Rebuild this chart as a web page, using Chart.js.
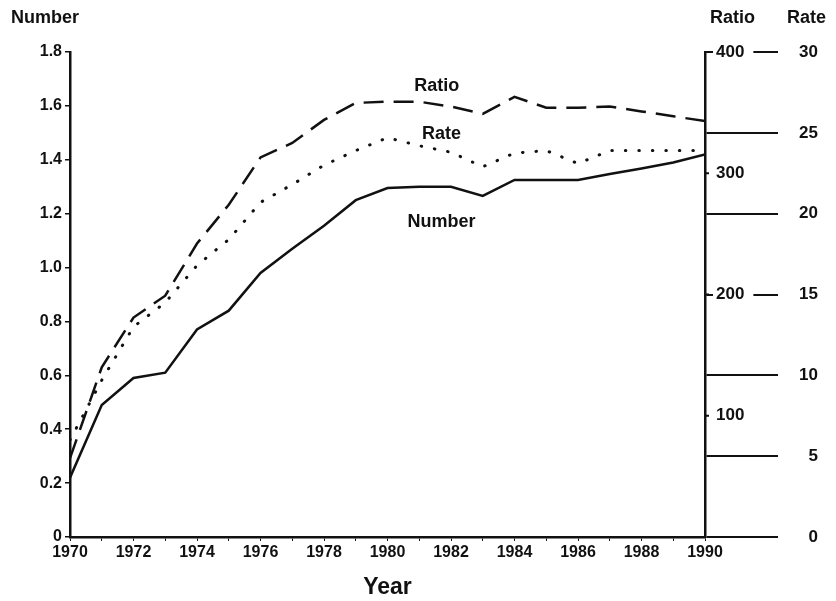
<!DOCTYPE html>
<html>
<head>
<meta charset="utf-8">
<script src="https://cdn.jsdelivr.net/npm/chart.js@4.4.1/dist/chart.umd.min.js"></script>
<style>
  html, body { margin: 0; padding: 0; background: #fff; }
  #wrap { width: 836px; height: 601px; }
</style>
</head>
<body>
<div id="wrap"><canvas id="myChart"></canvas></div>
<script>
const years = [1970, 1971, 1972, 1973, 1974, 1975, 1976, 1977, 1978, 1979, 1980,
  1981, 1982, 1983, 1984, 1985, 1986, 1987, 1988, 1989, 1990];
const numberVals = [0.22, 0.49, 0.59, 0.61, 0.77, 0.84, 0.98, 1.07, 1.155, 1.25, 1.295,
  1.30, 1.30, 1.266, 1.325, 1.325, 1.325, 1.347, 1.368, 1.39, 1.42];
const ratioVals = [65, 140, 181, 199, 242, 274, 313, 325, 344, 358, 359,
  359, 355, 349, 363, 354, 354, 355, 351, 347, 343];
const rateVals = [6.0, 9.7, 13.0, 14.5, 16.8, 18.4, 20.7, 21.8, 23.0, 23.9, 24.7,
  24.2, 23.8, 22.9, 23.75, 23.9, 23.1, 23.9, 23.9, 23.9, 23.9];
const ratioTicks = [100, 200, 300, 400];
// text labels placed next to the curves (year, number-axis value)
const curveLabels = [
  { text: "Ratio", x: 1981.55, y: 1.675 },
  { text: "Rate", x: 1981.7, y: 1.495 },
  { text: "Number", x: 1981.7, y: 1.17 },
];

const ink = "#111";
const fontFam = "'Liberation Sans', Arial, sans-serif";
const pts = (vals) => years.map((yr, i) => ({ x: yr, y: vals[i] }));

// axis headers, ratio scale labels and curve labels
const extras = {
  id: "extras",
  afterDraw(chart) {
    const ctx = chart.ctx;
    const area = chart.chartArea;
    const sx = chart.scales.x, sy = chart.scales.y, sr = chart.scales.yRatio;
    ctx.save();
    ctx.fillStyle = ink;
    ctx.textBaseline = "middle";
    ctx.font = "bold 18px " + fontFam;
    ctx.textAlign = "left";
    ctx.fillText("Number", 11, 18);
    ctx.fillText("Ratio", area.right + 5, 18);
    ctx.fillText("Rate", area.right + 82, 18);

    // ratio axis: small ticks + labels over the rate tick lines
    ctx.font = "bold 17px " + fontFam;
    ratioTicks.forEach(v => {
      const py = sr.getPixelForValue(v);
      const w = ctx.measureText(String(v)).width;
      ctx.fillStyle = "#fff";
      ctx.fillRect(area.right + 8, py - 9, w + 12, 18);
      ctx.fillStyle = ink;
      ctx.fillRect(area.right, py - 1, 4, 2);
      ctx.fillText(String(v), area.right + 11, py);
    });

    ctx.font = "bold 18px " + fontFam;
    ctx.textAlign = "center";
    curveLabels.forEach(l => {
      ctx.fillText(l.text, sx.getPixelForValue(l.x), sy.getPixelForValue(l.y));
    });
    ctx.restore();
  }
};

const config = {
  type: "line",
  data: {
    datasets: [
      {
        label: "Number",
        data: pts(numberVals),
        yAxisID: "y",
        borderColor: ink,
        borderWidth: 2.5,
        pointRadius: 0,
        tension: 0,
      },
      {
        label: "Ratio",
        data: pts(ratioVals),
        yAxisID: "yRatio",
        borderColor: ink,
        borderWidth: 2.5,
        borderDash: [20, 10],
        pointRadius: 0,
        tension: 0,
      },
      {
        label: "Rate",
        data: pts(rateVals),
        yAxisID: "yRate",
        borderColor: ink,
        borderWidth: 3,
        borderDash: [0.5, 13],
        borderCapStyle: "round",
        pointRadius: 0,
        tension: 0,
      },
    ],
  },
  options: {
    responsive: true,
    maintainAspectRatio: false,
    animation: false,
    layout: { padding: { top: 52, left: 0, right: 18, bottom: 0 } },
    plugins: {
      legend: { display: false },
      tooltip: { enabled: false },
    },
    scales: {
      x: {
        type: "linear",
        min: 1970,
        max: 1990,
        afterFit: (s) => { s.height = 64; },
        border: { color: ink, width: 2.5 },
        grid: { drawOnChartArea: false, tickLength: 4, color: ink, lineWidth: 1 },
        ticks: {
          stepSize: 1,
          autoSkip: false,
          maxRotation: 0,
          padding: 2,
          color: ink,
          font: { family: fontFam, size: 16, weight: "bold" },
          callback: (v) => (v % 2 === 0 ? String(v) : ""),
        },
        title: {
          display: true,
          text: "Year",
          color: ink,
          padding: { top: 4, bottom: 0 },
          font: { family: fontFam, size: 23, weight: "bold" },
        },
      },
      y: {
        position: "left",
        min: 0,
        max: 1.8,
        afterFit: (s) => { s.width = 70; },
        border: { color: ink, width: 2.5 },
        grid: { drawOnChartArea: false, tickLength: 5, color: ink, lineWidth: 1.5 },
        ticks: {
          stepSize: 0.2,
          padding: 3,
          color: ink,
          font: { family: fontFam, size: 16, weight: "bold" },
          callback: (v) => (v === 0 ? "0" : v.toFixed(1)),
        },
      },
      yRate: {
        position: "right",
        min: 0,
        max: 30,
        afterFit: (s) => { s.width = 113; },
        border: { color: ink, width: 2.5 },
        grid: { drawOnChartArea: false, tickLength: 73, color: ink, lineWidth: 2 },
        ticks: {
          stepSize: 5,
          padding: 19,
          crossAlign: "far",
          color: ink,
          font: { family: fontFam, size: 17, weight: "bold" },
        },
      },
      yRatio: {
        display: false,
        min: 0,
        max: 400,
      },
    },
  },
  plugins: [extras],
};

const ctx = document.getElementById("myChart").getContext("2d");
new Chart(ctx, config);
</script>
</body>
</html>
